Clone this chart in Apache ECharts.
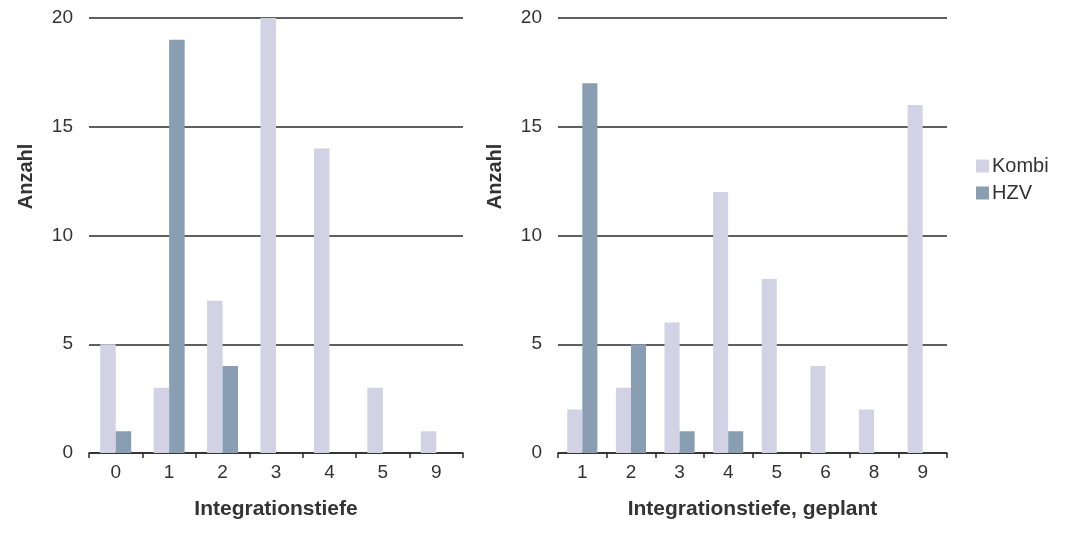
<!DOCTYPE html>
<html>
<head>
<meta charset="utf-8">
<script src="https://cdn.jsdelivr.net/npm/echarts@6/dist/echarts.min.js"></script>
<style>html,body{margin:0;padding:0;background:#fff;}#c{width:1067px;height:534px;}</style>
</head>
<body>
<div id="c"></div>
<script>
const leftCategories = ['0','1','2','3','4','5','9'];
const leftKombi = [5, 3, 7, 20, 14, 3, 1];
const leftHZV = [1, 19, 4, 0, 0, 0, 0];
const rightCategories = ['1','2','3','4','5','6','8','9'];
const rightKombi = [2, 3, 6, 12, 8, 4, 2, 16];
const rightHZV = [17, 5, 1, 1, 0, 0, 0, 0];
const yTicks = [0, 5, 10, 15, 20];

const FONT = '"Liberation Sans", Arial, sans-serif';
const TXT = '#333333';
const KOMBI = '#d2d2e4';
const HZV = '#8a9eb3';

function xAx(idx, cats, name) {
  return {
    type: 'category', gridIndex: idx, data: cats,
    name: name, nameLocation: 'middle', nameGap: 46,
    nameTextStyle: {fontFamily: FONT, fontSize: 21, fontWeight: 'bold', color: TXT},
    axisLine: {show: true, lineStyle: {color: '#2a2a2a', width: 1.5}},
    axisTick: {show: true, length: 5, alignWithLabel: false, lineStyle: {color: '#2a2a2a', width: 1.5}},
    axisLabel: {margin: 10, fontFamily: FONT, fontSize: 19, color: TXT},
    splitLine: {show: false}
  };
}
function yAx(idx) {
  return {
    type: 'value', gridIndex: idx, min: yTicks[0], max: yTicks[yTicks.length - 1], interval: 5,
    name: 'Anzahl', nameLocation: 'middle', nameGap: 53, nameRotate: 90,
    nameTextStyle: {fontFamily: FONT, fontSize: 20, fontWeight: 'bold', color: TXT, padding: [0, 0, 0, 118]},
    axisLine: {show: false}, axisTick: {show: false},
    axisLabel: {margin: 16, fontFamily: FONT, fontSize: 19, color: TXT},
    splitLine: {show: true, lineStyle: {color: '#2a2a2a', width: 1.5}}
  };
}

const chart = echarts.init(document.getElementById('c'));
chart.setOption({
  animation: false,
  backgroundColor: '#ffffff',
  grid: [
    {left: 89, right: 1067 - 463, top: 18, bottom: 534 - 453},
    {left: 558, right: 1067 - 947, top: 18, bottom: 534 - 453}
  ],
  legend: {
    data: ['Kombi', 'HZV'], orient: 'vertical', left: 971, top: 151,
    itemWidth: 13, itemHeight: 13, itemGap: 7,
    icon: 'rect',
    textStyle: {fontFamily: FONT, fontSize: 20, color: TXT, padding: [0, 0, 0, -2]}
  },
  xAxis: [xAx(0, leftCategories, 'Integrationstiefe'), xAx(1, rightCategories, 'Integrationstiefe, geplant')],
  yAxis: [yAx(0), yAx(1)],
  series: [
    {name: 'Kombi', type: 'bar', xAxisIndex: 0, yAxisIndex: 0, data: leftKombi, barGap: '0%', barCategoryGap: '42%', itemStyle: {color: KOMBI}},
    {name: 'HZV', type: 'bar', xAxisIndex: 0, yAxisIndex: 0, data: leftHZV, barGap: '0%', barCategoryGap: '42%', itemStyle: {color: HZV}},
    {name: 'Kombi', type: 'bar', xAxisIndex: 1, yAxisIndex: 1, data: rightKombi, barGap: '0%', barCategoryGap: '38%', itemStyle: {color: KOMBI}},
    {name: 'HZV', type: 'bar', xAxisIndex: 1, yAxisIndex: 1, data: rightHZV, barGap: '0%', barCategoryGap: '38%', itemStyle: {color: HZV}}
  ]
});
</script>
</body>
</html>
